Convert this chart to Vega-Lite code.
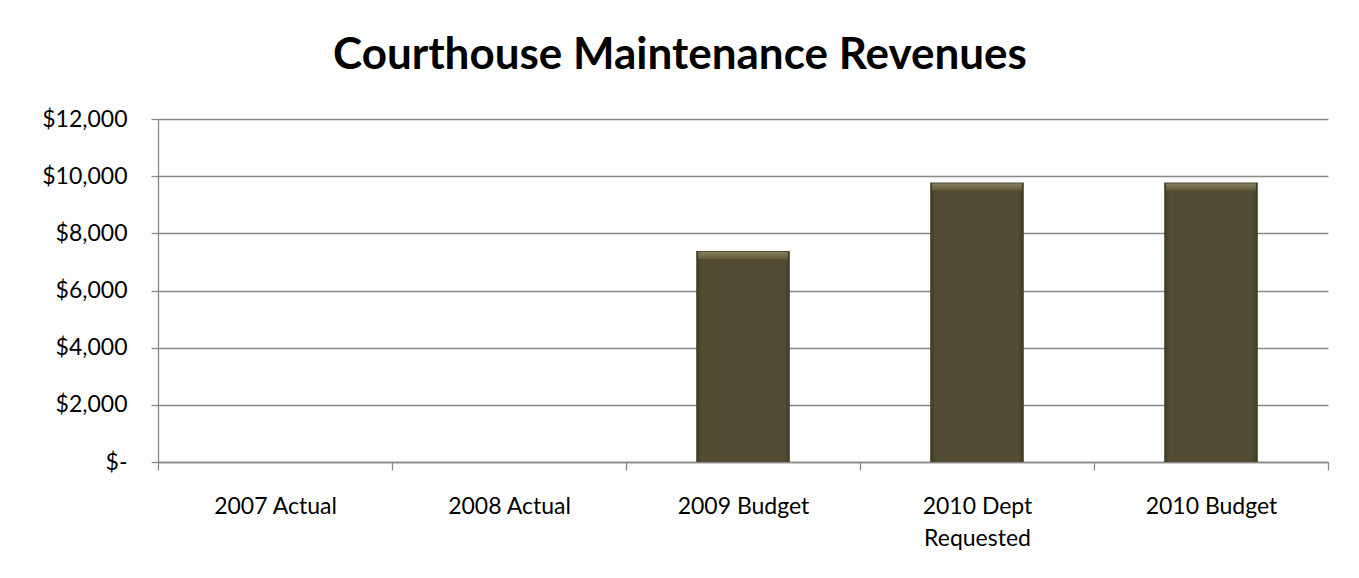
{
  "$schema": "https://vega.github.io/schema/vega-lite/v6.json",
  "width": 1170,
  "height": 343,
  "autosize": {"type": "none"},
  "padding": {"left": 158, "top": 119, "right": 31, "bottom": 116},
  "background": "white",
  "config": {"view": {"stroke": null}},
  "title": {
    "text": "Courthouse Maintenance Revenues",
    "font": "Lato",
    "fontSize": 44,
    "fontWeight": "bold",
    "color": "#000000",
    "anchor": "middle",
    "frame": "group",
    "dx": -63,
    "offset": 30
  },
  "data": {
    "values": [
      {"category": "2007 Actual", "revenue": 0},
      {"category": "2008 Actual", "revenue": 0},
      {"category": "2009 Budget", "revenue": 7380},
      {"category": "2010 Dept Requested", "revenue": 9780},
      {"category": "2010 Budget", "revenue": 9780}
    ]
  },
  "encoding": {
    "x": {
      "field": "category",
      "type": "nominal",
      "sort": null,
      "scale": {"paddingInner": 0, "paddingOuter": 0},
      "axis": {
        "title": null,
        "labelAngle": 0,
        "labelFont": "Lato",
        "labelFontSize": 23,
        "labelColor": "#000000",
        "labelPadding": 25,
        "labelLineHeight": 32,
        "labelExpr": "datum.label == '2010 Dept Requested' ? ['2010 Dept', 'Requested'] : datum.label",
        "tickBand": "extent",
        "tickSize": 8,
        "tickColor": "#898989",
        "tickWidth": 1.3,
        "domainColor": "#898989",
        "domainWidth": 1.3,
        "grid": false
      }
    }
  },
  "layer": [
    {
      "mark": {
        "type": "bar",
        "width": {"band": 0.4},
        "color": {
          "gradient": "linear",
          "x1": 0, "y1": 0, "x2": 1, "y2": 0,
          "stops": [
            {"offset": 0, "color": "#3f3b25"},
            {"offset": 0.06, "color": "#524d32"},
            {"offset": 0.94, "color": "#524d32"},
            {"offset": 1, "color": "#3f3b25"}
          ]
        }
      },
      "encoding": {
        "y": {
          "field": "revenue",
          "type": "quantitative",
          "scale": {"domain": [0, 12000], "nice": false},
          "axis": {
            "title": null,
            "values": [0, 2000, 4000, 6000, 8000, 10000, 12000],
            "labelExpr": "datum.value == 0 ? '$-\u2007' : '$' + format(datum.value, ',')",
            "labelFont": "Lato",
            "labelFontSize": 23,
            "labelColor": "#000000",
            "labelPadding": 24,
            "tickSize": 7,
            "tickColor": "#898989",
            "tickWidth": 1.3,
            "domainColor": "#898989",
            "domainWidth": 1.3,
            "grid": true,
            "gridColor": "#898989",
            "gridWidth": 1.3
          }
        }
      }
    },
    {
      "transform": [{"filter": "datum.revenue > 0"}],
      "mark": {
        "type": "tick",
        "orient": "horizontal",
        "size": 90,
        "thickness": 7,
        "yOffset": 4.5,
        "color": {
          "gradient": "linear",
          "x1": 0, "y1": 0, "x2": 0, "y2": 1,
          "stops": [
            {"offset": 0, "color": "#9a9370"},
            {"offset": 1, "color": "#67613f"}
          ]
        }
      },
      "encoding": {
        "y": {"field": "revenue", "type": "quantitative"}
      }
    }
  ]
}
